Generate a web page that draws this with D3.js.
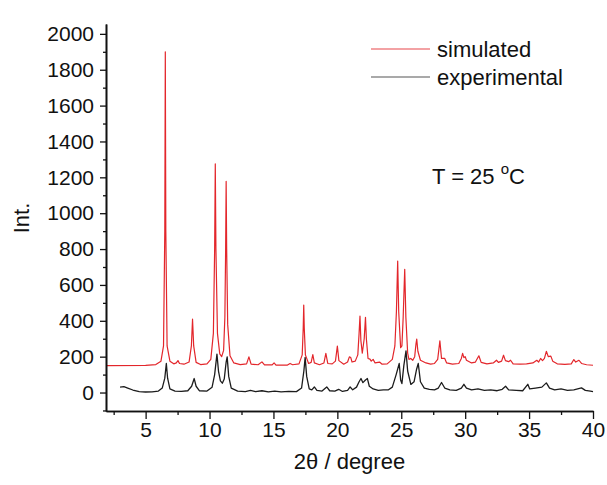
<!DOCTYPE html>
<html lang="en">
<head>
  <meta charset="UTF-8">
  <title>XRD pattern</title>
  <script src="https://cdn.jsdelivr.net/npm/d3@7"></script>
  <style>
    body { margin: 0; background: #fff; }
    svg { display: block; font-family: "Liberation Sans", Arial, sans-serif; }
    .axis path, .axis line { stroke: #111; }
    .axis text { font-size: 21px; fill: #111; font-family: "Liberation Sans", Arial, sans-serif; }
  </style>
</head>
<body>
<div class="chart-area"></div>
<script>
  // 2theta / intensity pairs
  const simulated = [
    [1.9,150],[5.0,151],[5.8,156],[6.2,175],[6.4,260],[6.5,900],[6.54,1900],[6.58,900],[6.68,260],[6.9,175],
    [7.2,160],[7.4,165],[7.53,178],[7.65,162],[8.0,158],[8.4,170],[8.58,260],[8.67,409],[8.76,260],[8.95,168],
    [9.3,156],[9.8,160],[10.1,185],[10.3,330],[10.4,800],[10.45,1275],[10.5,800],[10.62,330],[10.8,215],[10.95,200],
    [11.1,235],[11.2,420],[11.26,800],[11.3,1177],[11.34,800],[11.42,380],[11.6,205],[11.9,165],[12.4,156],[12.9,160],
    [13.08,199],[13.25,158],[13.8,155],[14.1,171],[14.3,154],[14.9,154],[15.05,165],[15.2,153],[16.1,153],[16.3,162],
    [16.5,155],[17.0,160],[17.25,210],[17.33,360],[17.37,488],[17.41,360],[17.5,210],[17.75,162],[17.95,168],[18.08,212],
    [18.2,165],[18.6,155],[18.95,165],[19.1,218],[19.25,162],[19.6,160],[19.85,175],[20.0,259],[20.12,178],[20.5,158],
    [20.8,170],[20.94,199],[21.05,195],[21.15,170],[21.4,175],[21.6,210],[21.7,330],[21.77,426],[21.84,290],[21.95,220],
    [22.1,300],[22.2,419],[22.27,300],[22.4,190],[22.55,186],[22.65,175],[22.8,185],[22.95,165],[23.3,170],[23.5,158],
    [23.9,160],[24.3,185],[24.5,260],[24.62,450],[24.72,733],[24.8,450],[24.95,250],[25.05,260],[25.15,420],[25.27,687],
    [25.36,420],[25.5,220],[25.6,185],[25.74,190],[25.9,180],[26.05,200],[26.15,270],[26.21,298],[26.3,230],[26.5,180],
    [26.93,165],[27.3,158],[27.6,162],[27.85,185],[28.02,288],[28.15,190],[28.4,190],[28.55,165],[29.0,158],[29.5,162],
    [29.7,190],[29.8,218],[29.9,195],[30.0,200],[30.1,180],[30.5,165],[30.8,170],[31.07,205],[31.25,168],[31.7,160],
    [32.2,165],[32.45,180],[32.6,168],[32.85,175],[33.0,208],[33.15,178],[33.4,172],[33.55,180],[33.75,160],[34.3,158],
    [34.8,160],[35.3,165],[35.6,180],[35.75,170],[35.9,190],[36.05,178],[36.2,190],[36.35,230],[36.5,200],[36.7,203],
    [36.85,175],[37.2,160],[37.8,157],[38.3,160],[38.5,184],[38.65,170],[38.9,180],[39.1,162],[39.5,155],[40,152]
  ]
  const experimental = [
    [3.0,30],[3.3,33],[3.6,25],[4.0,14],[4.5,5],[5.0,3],[5.5,4],[6.0,8],[6.3,25],[6.5,80],
    [6.62,162],[6.72,80],[6.9,20],[7.3,8],[7.8,6],[8.3,10],[8.6,35],[8.8,78],[8.95,35],[9.2,10],
    [9.8,8],[10.2,30],[10.4,100],[10.58,214],[10.7,120],[10.85,65],[11.0,52],[11.15,75],[11.3,170],[11.38,199],
    [11.5,90],[11.7,25],[12.2,8],[12.8,5],[13.2,12],[13.6,5],[14.1,10],[14.6,4],[15.1,8],[15.6,4],
    [16.2,6],[16.8,5],[17.2,25],[17.38,120],[17.48,196],[17.6,90],[17.8,20],[18.0,15],[18.2,31],[18.4,12],
    [18.8,8],[19.17,31],[19.4,10],[19.8,8],[20.1,18],[20.4,6],[20.8,12],[21.0,31],[21.2,15],[21.5,30],
    [21.7,60],[21.85,78],[22.0,55],[22.2,70],[22.35,78],[22.5,35],[22.8,20],[23.2,12],[23.6,15],[24.0,15],
    [24.3,30],[24.6,100],[24.84,162],[24.95,70],[25.05,50],[25.2,150],[25.37,232],[25.5,120],[25.75,45],[26.0,60],
    [26.2,130],[26.33,162],[26.5,60],[26.8,25],[27.2,18],[27.6,15],[27.9,25],[28.15,56],[28.4,25],[28.8,15],
    [29.3,12],[29.7,25],[29.9,46],[30.1,25],[30.5,15],[31.0,20],[31.5,12],[32.0,15],[32.5,10],[32.9,18],
    [33.16,35],[33.4,15],[34.0,12],[34.5,10],[34.9,46],[35.05,20],[35.5,25],[36.0,30],[36.35,54],[36.6,25],
    [37.0,15],[37.5,20],[38.0,12],[38.5,15],[39.1,26],[39.4,12],[39.8,8],[40,5]
  ]
  const xTicks = [5, 10, 15, 20, 25, 30, 35, 40]
  const xMinorTicks = [2.5, 7.5, 12.5, 17.5, 22.5, 27.5, 32.5, 37.5]
  const yTicks = [0, 200, 400, 600, 800, 1000, 1200, 1400, 1600, 1800, 2000]
  const yMinorTicks = [-100, 100, 300, 500, 700, 900, 1100, 1300, 1500, 1700, 1900]
  const seriesNames = ['simulated', 'experimental']
  const seriesColors = ['#e3262b', '#1c1c1c']

  const width = 607,
    height = 485,
    plotLeft = 106,
    plotRight = 593,
    plotTop = 24,
    plotBottom = 411

  const x = d3.scaleLinear().domain([1.9, 40]).range([plotLeft, plotRight])
  const y = d3.scaleLinear().domain([-103, 2055]).range([plotBottom, plotTop])

  const svg = d3.select('.chart-area')
    .append('svg')
    .attr('width', width)
    .attr('height', height)

  const line = d3.line()
    .x(d => x(d[0]))
    .y(d => y(d[1]))

  // spectra
  svg.append('path')
    .datum(experimental)
    .attr('fill', 'none')
    .attr('stroke', seriesColors[1])
    .attr('stroke-width', 1.3)
    .attr('stroke-linejoin', 'round')
    .attr('d', line)

  svg.append('path')
    .datum(simulated)
    .attr('fill', 'none')
    .attr('stroke', seriesColors[0])
    .attr('stroke-width', 1.2)
    .attr('stroke-linejoin', 'round')
    .attr('d', line)

  // axes
  svg.append('g')
    .attr('class', 'axis')
    .attr('transform', `translate(0,${plotBottom})`)
    .call(d3.axisBottom(x).tickValues(xTicks).tickSize(8).tickSizeOuter(0).tickPadding(3).tickFormat(d3.format('d')))
  svg.append('g')
    .attr('class', 'axis')
    .attr('transform', `translate(0,${plotBottom})`)
    .call(d3.axisBottom(x).tickValues(xMinorTicks).tickSize(4).tickSizeOuter(0).tickFormat(''))

  svg.append('g')
    .attr('class', 'axis')
    .attr('transform', `translate(${plotLeft},0)`)
    .call(d3.axisLeft(y).tickValues(yTicks).tickSize(6).tickSizeOuter(0).tickPadding(6).tickFormat(d3.format('d')))
  svg.append('g')
    .attr('class', 'axis')
    .attr('transform', `translate(${plotLeft},0)`)
    .call(d3.axisLeft(y).tickValues(yMinorTicks).tickSize(3).tickSizeOuter(0).tickFormat(''))

  svg.selectAll('.axis path').attr('stroke-width', 1.6)
  svg.selectAll('.axis line').attr('stroke-width', 1.3)

  // axis titles
  svg.append('text')
    .attr('x', (plotLeft + plotRight) / 2)
    .attr('y', 469)
    .attr('text-anchor', 'middle')
    .attr('font-size', 22)
    .attr('fill', '#111')
    .text('2θ / degree')

  svg.append('text')
    .attr('transform', 'translate(29,218) rotate(-90)')
    .attr('text-anchor', 'middle')
    .attr('font-size', 22)
    .attr('fill', '#111')
    .text('Int.')

  // legend
  const legend = svg.append('g').attr('transform', 'translate(371,49)')
  seriesNames.forEach((name, i) => {
    legend.append('line')
      .attr('x1', 0).attr('x2', 59)
      .attr('y1', i * 28).attr('y2', i * 28)
      .attr('stroke', i === 0 ? '#e8474b' : '#555')
      .attr('stroke-width', 1.2)
    legend.append('text')
      .attr('x', 66)
      .attr('y', i * 28)
      .attr('dy', '0.35em')
      .attr('font-size', 22)
      .attr('fill', '#111')
      .text(name)
  })

  // temperature note
  const note = svg.append('text')
    .attr('x', 432)
    .attr('y', 184)
    .attr('font-size', 22)
    .attr('fill', '#111')
  note.append('tspan').text('T = 25 ')
  note.append('tspan').attr('dy', -10).attr('font-size', 15).text('o')
  note.append('tspan').attr('dy', 10).text('C')
</script>
</body>
</html>
